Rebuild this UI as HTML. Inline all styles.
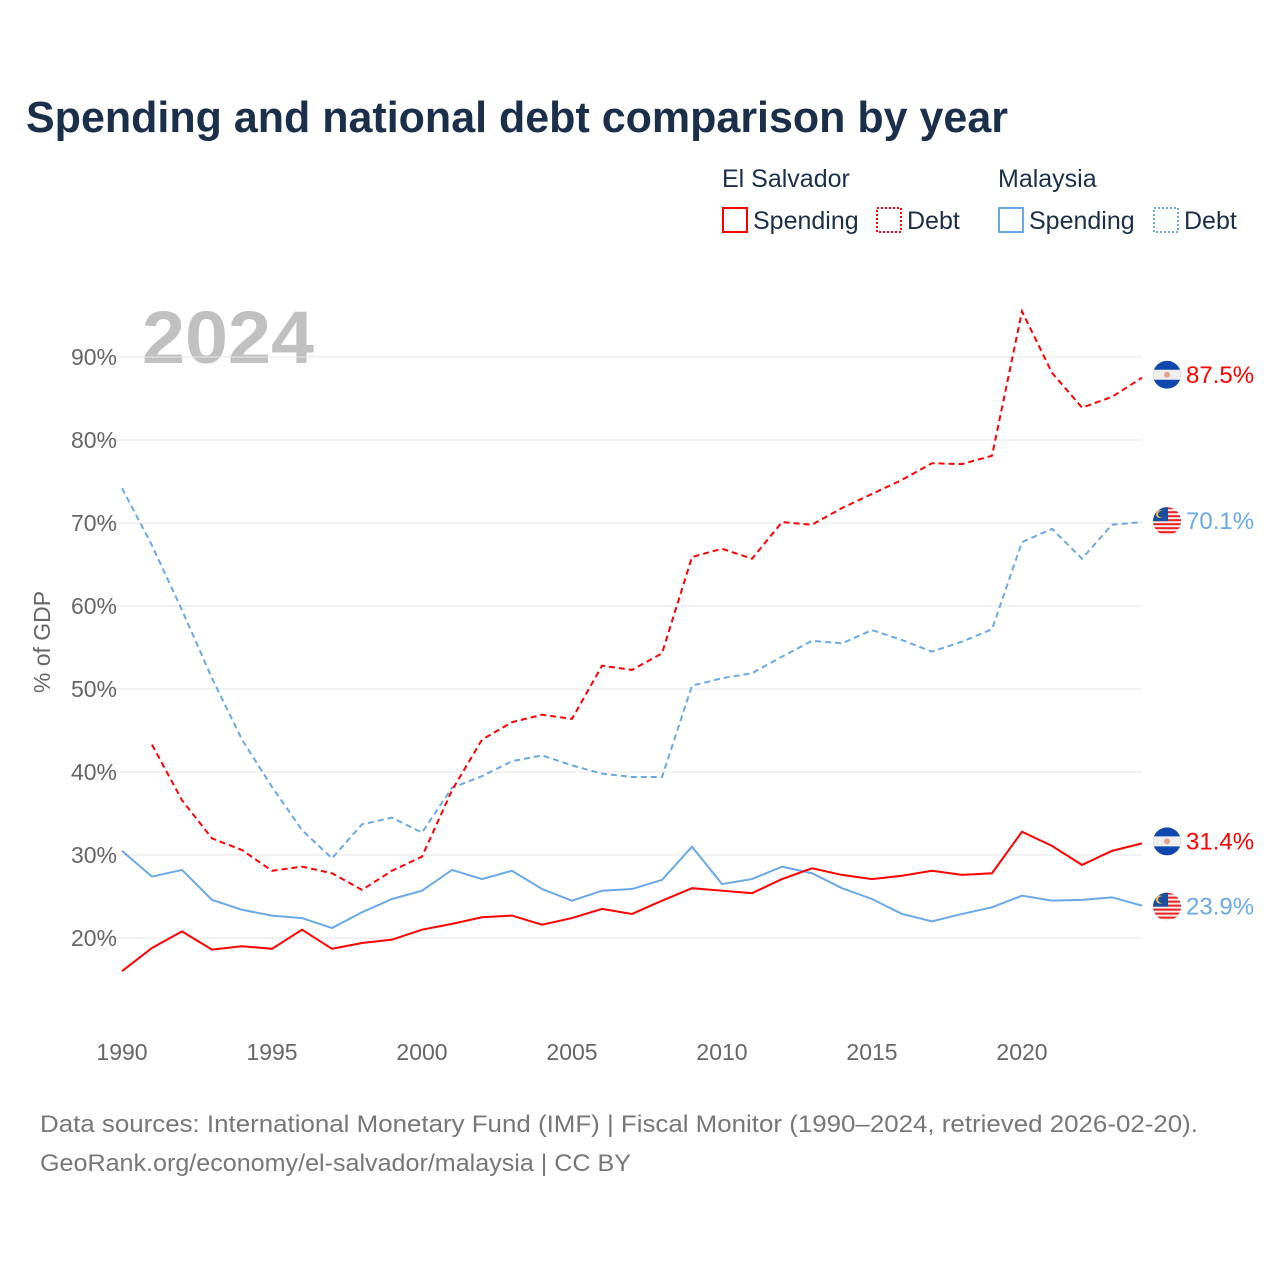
<!DOCTYPE html>
<html><head><meta charset="utf-8"><style>
body{margin:0;background:#fff;font-family:"Liberation Sans",sans-serif;}
svg text{font-family:"Liberation Sans",sans-serif;}
</style></head><body>
<svg id="chart" width="1280" height="1280" xmlns="http://www.w3.org/2000/svg">
<defs>
<clipPath id="fc"><circle cx="0" cy="0" r="14"/></clipPath>
</defs>
<text x="26" y="132" font-size="44" font-weight="bold" fill="#1b2f4b" textLength="982" lengthAdjust="spacingAndGlyphs">Spending and national debt comparison by year</text>
<g font-size="25" fill="#1b2f4b">
<text x="722" y="187">El Salvador</text>
<text x="998" y="187">Malaysia</text>
<g><rect x="723" y="208" width="24" height="24" fill="none" stroke="#f00" stroke-width="2"/><text x="753" y="229">Spending</text></g>
<g><rect x="877" y="208" width="24" height="24" fill="none" stroke="#f00" stroke-width="2" stroke-dasharray="2,2"/><text x="907" y="229">Debt</text></g>
<g><rect x="999" y="208" width="24" height="24" fill="none" stroke="#6aa8e8" stroke-width="2"/><text x="1029" y="229">Spending</text></g>
<g><rect x="1154" y="208" width="24" height="24" fill="none" stroke="#6aa8e8" stroke-width="2" stroke-dasharray="2,2"/><text x="1184" y="229">Debt</text></g>
</g>
<text x="142" y="363" font-size="74" font-weight="bold" fill="#c0c0c0" textLength="172" lengthAdjust="spacingAndGlyphs">2024</text>
<text transform="translate(50,642) rotate(-90)" text-anchor="middle" font-size="23" fill="#666">% of GDP</text>
<g id="grid"></g><g id="series"></g><g id="labels"></g>
<text x="40" y="1132" font-size="24" fill="#777" textLength="1158" lengthAdjust="spacingAndGlyphs">Data sources: International Monetary Fund (IMF) | Fiscal Monitor (1990–2024, retrieved 2026-02-20).</text>
<text x="40" y="1171" font-size="24" fill="#777" textLength="591" lengthAdjust="spacingAndGlyphs">GeoRank.org/economy/el-salvador/malaysia | CC BY</text>
</svg>
<script>
const years=[];for(let y=1990;y<=2024;y++)years.push(y);
const esSpending=[16.0,18.8,20.8,18.6,19.0,18.7,21.0,18.7,19.4,19.8,21.0,21.7,22.5,22.7,21.6,22.4,23.5,22.9,24.5,26.0,25.7,25.4,27.1,28.4,27.6,27.1,27.5,28.1,27.6,27.8,32.8,31.1,28.8,30.5,31.4];
const esDebt=[null,43.3,36.6,32.0,30.6,28.1,28.6,27.8,25.8,28.1,29.8,37.8,43.9,46.0,46.9,46.4,52.8,52.3,54.3,65.9,66.9,65.7,70.1,69.8,71.8,73.5,75.2,77.2,77.1,78.1,95.5,88.1,83.9,85.2,87.5];
const mySpending=[30.5,27.4,28.2,24.6,23.4,22.7,22.4,21.2,23.1,24.7,25.7,28.2,27.1,28.1,25.9,24.5,25.7,25.9,27.0,31.0,26.5,27.1,28.6,27.8,26.0,24.7,22.9,22.0,22.9,23.7,25.1,24.5,24.6,24.9,23.9];
const myDebt=[74.2,67.3,59.5,51.3,43.9,38.2,33.0,29.6,33.7,34.5,32.7,38.1,39.5,41.3,42.0,40.8,39.8,39.4,39.4,50.4,51.3,51.9,53.9,55.8,55.5,57.1,55.9,54.5,55.7,57.2,67.7,69.3,65.7,69.8,70.1];
const yTicks=[20,30,40,50,60,70,80,90];
const xTicks=[1990,1995,2000,2005,2010,2015,2020];
const NS="http://www.w3.org/2000/svg";
const X=y=>122+(y-1990)*30;
const Y=v=>938-(v-20)*8.3;
function mk(t,a,p){const e=document.createElementNS(NS,t);for(const k in a)e.setAttribute(k,a[k]);p.appendChild(e);return e;}
const grid=document.getElementById('grid');
yTicks.forEach(v=>{
 const l=mk('line',{x1:100,x2:1142,y1:Y(v),y2:Y(v),stroke:'#e6e6e6','stroke-width':1},grid);
 
 
 const t=mk('text',{x:117,y:Y(v)+8,'text-anchor':'end','font-size':23,fill:'#666'},grid);
 
 
 t.textContent=v+'%';
});
xTicks.forEach(y=>{
 const t=mk('text',{x:X(y),y:1060,'text-anchor':'middle','font-size':23,fill:'#666'},grid);
 
 
 t.textContent=y;
});
const ser=document.getElementById('series');
function line(data,color,dash,name){
 let d='';data.forEach((v,i)=>{if(v==null)return;d+=(d?'L':'M')+X(years[i])+','+Y(v);});
 const p=mk('path',{d:d,fill:'none',stroke:color,'stroke-width':2,'stroke-dasharray':dash||'none'},ser);
 
 
}
line(myDebt,'#6aa8e8','6,4','line-malaysia-debt');
line(mySpending,'#6aa8e8','','line-malaysia-spending');
line(esDebt,'#f00','6,4','line-el-salvador-debt');
line(esSpending,'#f00','','line-el-salvador-spending');
const lab=document.getElementById('labels');
function flag(cy,type,val,color,name){
 const g=mk('g',{transform:'translate(1167,'+cy+')'},lab);
 
 
 const f=mk('g',{'clip-path':'url(#fc)'},g);
 if(type==='es'){
  mk('rect',{x:-14,y:-14,width:28,height:28,fill:'#0f47af'},f);
  mk('rect',{x:-14,y:-5,width:28,height:10,fill:'#eee'},f);
  mk('circle',{cx:0,cy:0,r:3,fill:'#e8a090'},f);
 }else{
  mk('rect',{x:-14,y:-14,width:28,height:28,fill:'#eee'},f);
  for(let i=0;i<7;i++)mk('rect',{x:-14,y:-14+i*4,width:28,height:2,fill:'#e22'},f);
  mk('rect',{x:-14,y:-14,width:15,height:14,fill:'#1a4fa0'},f);
  mk('circle',{cx:-7,cy:-7,r:4,fill:'#f2c14e'},f);
  mk('circle',{cx:-5.5,cy:-7,r:3.4,fill:'#1a4fa0'},f);
 }
 const t=mk('text',{x:19,y:8,'font-size':24,fill:color},g);
 t.textContent=val.toFixed(1)+'%';
}
const last=years.length-1;
flag(Y(esDebt[last])-3,'es',esDebt[last],'#f00','end-label-el-salvador-debt');
flag(Y(myDebt[last])-1,'my',myDebt[last],'#6aa8e8','end-label-malaysia-debt');
flag(Y(esSpending[last])-2,'es',esSpending[last],'#f00','end-label-el-salvador-spending');
flag(Y(mySpending[last])+1,'my',mySpending[last],'#6aa8e8','end-label-malaysia-spending');
</script>
</body></html>
